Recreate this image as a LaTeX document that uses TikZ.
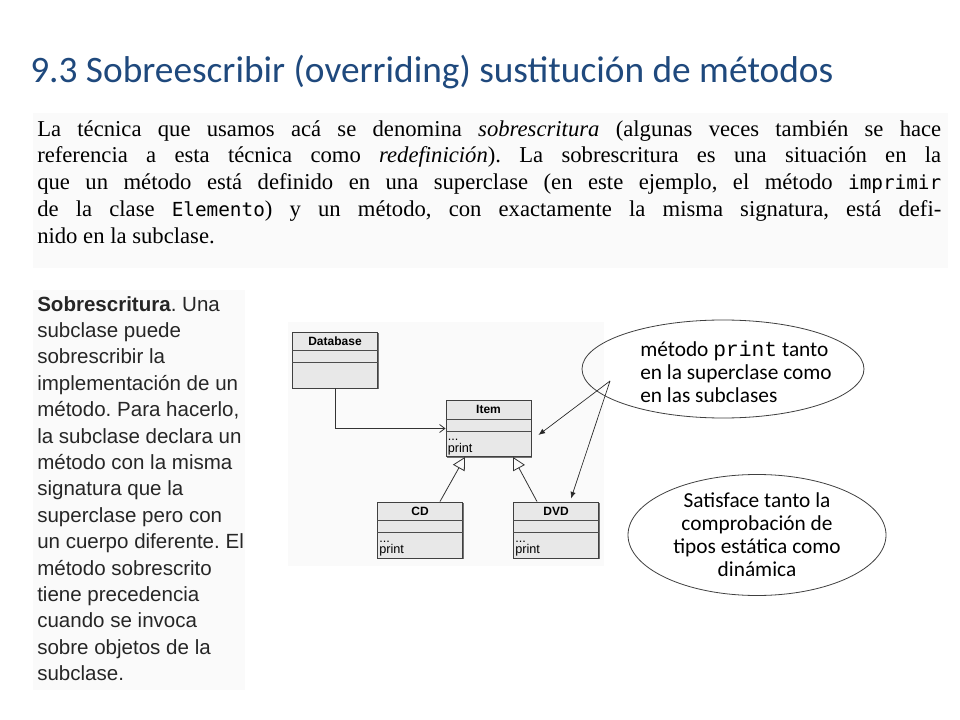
\documentclass[tikz,border=0pt]{standalone}
\usepackage{fontspec}
\setmainfont{Liberation Serif}
\newfontfamily\slidefont{Carlito}
\newfontfamily\bookfont{Liberation Serif}
\newfontfamily\bookmono{DejaVu Sans Mono}
\newfontfamily\sidefont{Liberation Sans}
\newfontfamily\codefont{Liberation Mono}
\newcommand{\bookcode}[1]{{\bookmono\fontsize{14.5}{20.2}\selectfont #1}}
\usetikzlibrary{arrows.meta,shapes.geometric,shadows}
\definecolor{titleblue}{HTML}{1F497D}
\frenchspacing

\begin{document}
\begin{tikzpicture}[x=0.75pt,y=-0.75pt]
    \tikzset{%
        panel/.style={fill=black!2, draw=none},
        umlbox/.style={draw=black!75, fill=black!9, line width=0.7pt,
            minimum width=63.75pt, minimum height=42pt, inner sep=0pt,
            drop shadow={shadow xshift=0.9pt, shadow yshift=-0.9pt, fill=black!55, opacity=1}},
        umlrule/.style={draw=black!70, line width=0.6pt},
        umltitle/.style={font=\sidefont\bfseries\fontsize{9}{10}\selectfont, inner sep=0pt},
        umlbody/.style={font=\sidefont\fontsize{9.5}{8.5}\selectfont, align=left, anchor=south west, inner sep=1.5pt},
        assoc/.style={draw=black!80, line width=0.6pt, -{Straight Barb[length=4pt,width=6pt]}},
        inherit/.style={draw=black!80, line width=0.6pt, -{Triangle[open,length=9.5pt,width=10pt]}},
        bubble/.style={ellipse, draw=black!75, line width=0.6pt, inner sep=0pt},
        bubbletext/.style={inner sep=0pt, font=\slidefont\fontsize{16}{17.25}\selectfont},
        pointer/.style={draw=black!85, line width=0.5pt, -{Latex[length=5pt,width=4pt]}},
    }%
    \useasboundingbox (0,0) rectangle (960,720);
    \fill[white] (0,0) rectangle (960,720);
    % title
    \node[anchor=base west, inner sep=0pt, text=titleblue,
        font=\slidefont\fontsize{28}{33}\selectfont] (title) at (30,83)
        {9.3 Sobreescribir (overriding) sustitución de métodos};
    % book paragraph
    \path[panel] (33,113) rectangle (948,268);
    \node[anchor=north west, inner sep=0pt, text width=678pt, align=justify,
        font=\bookfont\fontsize{17}{20.2}\selectfont] (intro) at (37,120)
        {La técnica que usamos acá se denomina \textit{sobrescritura} (algunas veces también se hace\linebreak
        referencia a esta técnica como \textit{redefinición}). La sobrescritura es una situación en la\linebreak
        que un método está definido en una superclase (en este ejemplo, el método \bookcode{imprimir}\linebreak
        de la clase \bookcode{Elemento}) y un método, con exactamente la misma signatura, está defi-\linebreak
        nido en la subclase.};
    % side note
    \path[panel] (33,290) rectangle (245,690);
    \node[anchor=north west, inner sep=0pt, align=left, text=black!85,
        font=\sidefont\fontsize{15.4}{19.8}\selectfont] (side) at (37,296)
        {\textbf{Sobrescritura}. Una\\ subclase puede\\ sobrescribir la\\ implementación de un\\
        método. Para hacerlo,\\ la subclase declara un\\ método con la misma\\ signatura que la\\
        superclase pero con\\ un cuerpo diferente. El\\ método sobrescrito\\ tiene precedencia\\
        cuando se invoca\\ sobre objetos de la\\ subclase.};
    % class diagram
    \path[panel] (288,322) rectangle (604,566);
    \node[umlbox] (db) at (335,360) {};
    \node[umlbox] (item) at (488.5,428.5) {};
    \node[umlbox] (cd) at (420,530) {};
    \node[umlbox] (dvd) at (556,530) {};
    \foreach \c in {db,item,cd,dvd}{%
        \draw[umlrule] ([shift={(0,19)}]\c.north west) -- ([shift={(0,19)}]\c.north east);
        \draw[umlrule] ([shift={(0,31)}]\c.north west) -- ([shift={(0,31)}]\c.north east);
    }
    \node[umltitle] (dbname) at ([shift={(0,9.5)}]db.north) {Database};
    \node[umltitle] (itemname) at ([shift={(0,9.5)}]item.north) {Item};
    \node[umltitle] (cdname) at ([shift={(0,9.5)}]cd.north) {CD};
    \node[umltitle] (dvdname) at ([shift={(0,9.5)}]dvd.north) {DVD};
    \node[umlbody] (itembody) at (item.south west) {...\\print};
    \node[umlbody] (cdbody) at (cd.south west) {...\\print};
    \node[umlbody] (dvdbody) at (dvd.south west) {...\\print};
    \draw[assoc] (db.south) |- (item.west);
    \draw[inherit] ([shift={(20,0)}]cd.north) -- ([shift={(-23.5,0)}]item.south);
    \draw[inherit] ([shift={(-19,0)}]dvd.north) -- ([shift={(24.5,0)}]item.south);
    % notes
    \node[bubble, minimum width=211.5pt, minimum height=73.5pt] (note1) at (723,369) {};
    \node[bubbletext, anchor=west, align=left] (note1txt) at (640,372)
        {método {\codefont print} tanto\\en la superclase como\\en las subclases};
    \coordinate (note1tip) at (610,381);
    \draw[pointer] (note1tip) -- ([shift={(7,6.5)}]item.east);
    \draw[pointer] (note1tip) -- ([shift={(15,-3)}]dvd.north);
    \node[bubble, minimum width=193.5pt, minimum height=90.75pt] (note2) at (757,535) {};
    \node[bubbletext, align=center] (note2txt) at (757,535)
        {Satisface tanto la\\comprobación de\\tipos estática como\\dinámica};
\end{tikzpicture}
\end{document}
